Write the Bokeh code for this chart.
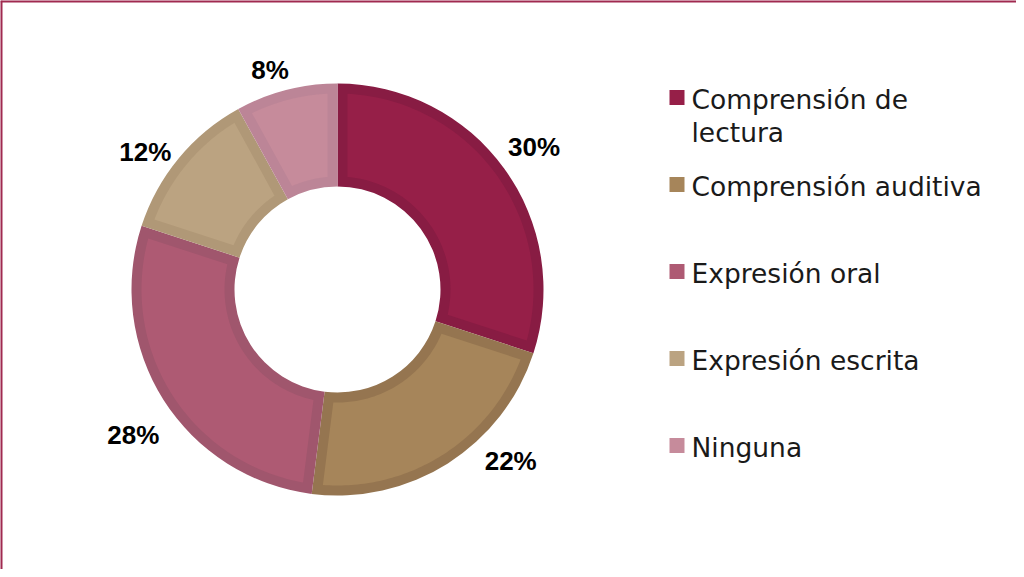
import numpy as np
from bokeh.plotting import figure
from bokeh.models import Range1d, Span
from bokeh.core.properties import value
from bokeh.embed import file_html
from bokeh.resources import INLINE

# ---- data ----
categories = ["Comprensión de lectura", "Comprensión auditiva", "Expresión oral",
              "Expresión escrita", "Ninguna"]
values = [30, 22, 28, 12, 8]
legend_lines = [["Comprensión de", "lectura"], ["Comprensión auditiva"], ["Expresión oral"],
                ["Expresión escrita"], ["Ninguna"]]

# ---- styles ----
fill_colors = ["#961F48", "#A6855A", "#AE5A73", "#BBA381", "#C68B9B"]
band_colors = ["#881C43", "#957550", "#A0566D", "#B09877", "#BC8597"]
border_color = "#A02A50"

W, H = 1016, 569
p = figure(width=W, height=H, x_range=Range1d(0, W), y_range=Range1d(0, H),
           output_backend="svg", toolbar_location=None, min_border=0,
           x_axis_type=None, y_axis_type=None)
p.grid.visible = False
p.outline_line_color = None
p.background_fill_color = "white"
p.border_fill_color = "white"

# layout
cx, cy = 337, 280
r_in, r_out, band = 103, 206, 10

frac = np.array(values, dtype=float) / sum(values)
cum = np.concatenate([[0.0], np.cumsum(frac)])
start = np.pi / 2 - cum[:-1] * 2 * np.pi
end = np.pi / 2 - cum[1:] * 2 * np.pi

# darker outer band (full slice)
p.annular_wedge(x=cx, y=cy, inner_radius=r_in, outer_radius=r_out,
                start_angle=start, end_angle=end, direction="clock",
                fill_color=band_colors, line_color=None)

# lighter inner fill, inset by constant band width
xs, ys = [], []
ro, ri = r_out - band, r_in + band
for a1, a2 in zip(start, end):
    do = np.arcsin(band / ro)
    di = np.arcsin(band / ri)
    t_out = np.linspace(a1 - do, a2 + do, 80)
    t_in = np.linspace(a2 + di, a1 - di, 60)
    xs.append(list(cx + ro * np.cos(t_out)) + list(cx + ri * np.cos(t_in)))
    ys.append(list(cy + ro * np.sin(t_out)) + list(cy + ri * np.sin(t_in)))
p.patches(xs, ys, fill_color=fill_colors, line_color=None)

# percentage labels
mid = (start + end) / 2
R = 243
lx = cx + R * np.cos(mid)
ly = cy + R * np.sin(mid)
nudge_x = [0, 43, 1, -5, -7]
nudge_y = [0, -34, 15, 17, 16]
labels = [f"{v}%" for v in values]
p.text(x=lx, y=ly, text=labels, x_offset=nudge_x, y_offset=nudge_y,
       text_align="center", text_baseline="middle",
       text_font=value("Liberation Sans"), text_font_style="bold",
       text_font_size="26px", text_color="#000000")

# manual legend
lg_x, lg_y0, lg_dy = 676.5, 472, 87
sq_y = [lg_y0 - i * lg_dy for i in range(len(categories))]
p.scatter(x=[lg_x] * len(categories), y=sq_y, marker="square", size=15,
          fill_color=fill_colors, line_color=None)
tx, ty, tt = [], [], []
for i, lines in enumerate(legend_lines):
    for j, line in enumerate(lines):
        tx.append(lg_x + 14.5)
        ty.append(sq_y[i] - 1.5 - j * 33)
        tt.append(line)
p.text(x=tx, y=ty, text=tt, text_align="left", text_baseline="middle",
       text_font=value("DejaVu Sans"), text_font_size="26.5px", text_color="#1A1A1A")

# frame lines (left and top)
p.add_layout(Span(location=0.5, dimension="height", line_color=border_color, line_width=3))
p.add_layout(Span(location=H - 0.5, dimension="width", line_color=border_color, line_width=3))

open("out.html", "w").write(file_html(p, INLINE))
